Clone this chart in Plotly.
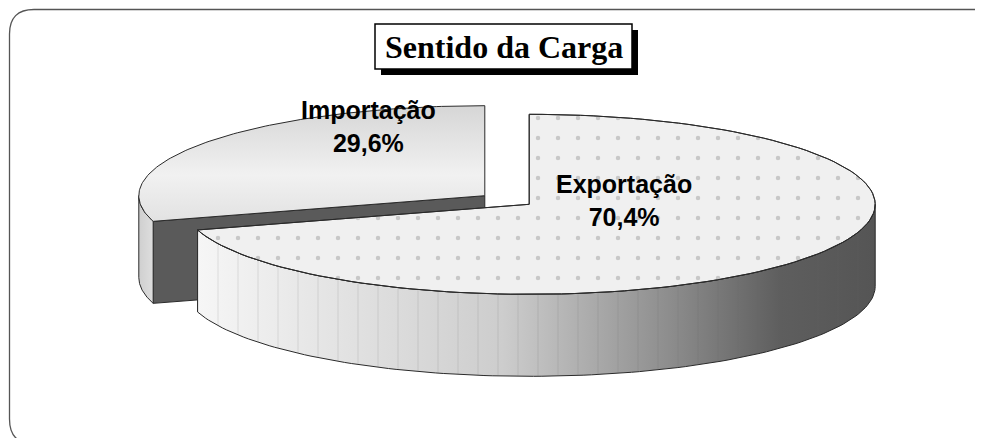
import numpy as np
import plotly.graph_objects as go

# ---- data ----
categories = ["Exportação", "Importação"]
values = [70.4, 29.6]
title_text = "Sentido da Carga"

# ---- pseudo-3D pie geometry (pixel-like axis units) ----
W, H = 983, 438
OFF = 8  # compensate page body margin
cx, cy = 507.0, 200.0
rx, ry = 346.0, 90.0
depth = 82.0
pull = 0.08

def pt(a, ox, oy, dz=0.0):
    r = np.radians(a)
    return ox + rx * np.sin(r), oy - ry * np.cos(r) + dz

def arc(a0, a1, ox, oy, dz=0.0, n=120):
    ang = np.linspace(a0, a1, n)
    r = np.radians(ang)
    return ox + rx * np.sin(r), oy - ry * np.cos(r) + dz

total = float(sum(values))
slices = []
start = 0.0
for cat, v in zip(categories, values):
    end = start + 360.0 * v / total
    mid = np.radians((start + end) / 2)
    ox = cx + pull * rx * np.sin(mid)
    oy = cy - pull * ry * np.cos(mid)
    slices.append(dict(cat=cat, v=v, a0=start, a1=end, ox=ox, oy=oy))
    start = end

styles = {
    "Exportação": dict(top_bg="#f0f0f0", dots=True,
                       side_scale=[[0, "#f6f6f6"], [0.45, "#cdcdcd"], [0.7, "#8c8c8c"],
                                   [0.86, "#5e5e5e"], [1, "#555555"]],
                       cut="#5a5a5a"),
    "Importação": dict(top_bg="#e8e8e8", dots=False,
                       side_scale=[[0, "#cfcfcf"], [1, "#dedede"]],
                       cut="#5a5a5a"),
}

LINE = dict(color="#2a2a2a", width=1)
fig = go.Figure()

def add_poly(xs, ys, **kw):
    xs = list(xs) + [xs[0]]
    ys = list(ys) + [ys[0]]
    fig.add_trace(go.Scatter(x=xs, y=ys, mode="lines", fill="toself",
                             hoverinfo="skip", showlegend=False, **kw))

# draw back-to-front
for s in sorted(slices, key=lambda d: d["oy"]):
    st = styles[s["cat"]]
    ox, oy, a0, a1 = s["ox"], s["oy"], s["a0"], s["a1"]
    # cut faces
    for ang, normal in ((a0, a0 - 90), (a1, a1 + 90)):
        if np.cos(np.radians(normal)) < -1e-6:
            ex, ey = pt(ang, ox, oy)
            add_poly([ox, ex, ex, ox], [oy, ey, ey + depth, oy + depth],
                     fillcolor=st["cut"], line=LINE)
    # outer side (front half only)
    lo, hi = max(a0, 90.0), min(a1, 270.0)
    if hi > lo:
        tx, ty = arc(lo, hi, ox, oy)
        bx, by = arc(hi, lo, ox, oy, depth)
        xs = np.concatenate([tx, bx]); ys = np.concatenate([ty, by])
        add_poly(xs, ys, fillcolor="#cccccc", line=LINE,
                 fillgradient=dict(type="horizontal", colorscale=st["side_scale"],
                                   start=float(xs.min()), stop=float(xs.max())))
        if st["dots"]:
            add_poly(xs, ys, fillcolor="rgba(0,0,0,0)", line=dict(width=0),
                     fillpattern=dict(shape="|", size=20, solidity=0.08,
                                      fgcolor="rgba(90,90,90,0.2)",
                                      bgcolor="rgba(0,0,0,0)"))
    # top face
    tx, ty = arc(a0, a1, ox, oy)
    xs = np.concatenate([[ox], tx]); ys = np.concatenate([[oy], ty])
    if st["dots"]:
        add_poly(xs, ys, fillcolor=st["top_bg"], line=LINE)
        add_poly(xs, ys, fillcolor="rgba(0,0,0,0)", line=LINE,
                 fillpattern=dict(shape=".", size=20, solidity=0.04,
                                  fgcolor="#a0a0a0", bgcolor="rgba(0,0,0,0)"))
    else:
        add_poly(xs, ys, fillcolor=st["top_bg"], line=LINE,
                 fillgradient=dict(type="vertical",
                                   colorscale=[[0, "#d6d6d6"], [0.6, "#f1f1f1"], [1, "#e2e2e2"]],
                                   start=float(ys.min()), stop=float(ys.max())))

# ---- labels ----
label_pos = {"Importação": (368, 126), "Exportação": (624, 200)}
for s in slices:
    pct = f"{s['v']:.1f}".replace(".", ",") + "%"
    x, y = label_pos[s["cat"]]
    fig.add_annotation(x=x, y=y, xref="x", yref="y", showarrow=False,
                       text=f"<b>{s['cat']}</b><br><b>{pct}</b>",
                       font=dict(family="Liberation Sans, Arial", size=25, color="#000"),
                       align="center", xanchor="center", yanchor="middle")

# ---- title box with shadow ----
fig.add_shape(type="rect", xref="x", yref="y", x0=381, y0=30, x1=638, y1=75,
              fillcolor="#000", line=dict(width=0), layer="above")
fig.add_shape(type="rect", xref="x", yref="y", x0=375, y0=24, x1=632, y1=69,
              fillcolor="#fff", line=dict(color="#000", width=1.5), layer="above")
fig.add_annotation(x=503.5, y=47, xref="x", yref="y", showarrow=False,
                   text=f"<b>{title_text}</b>",
                   font=dict(family="Liberation Serif, Times New Roman", size=32, color="#000"),
                   xanchor="center", yanchor="middle")

# ---- rounded frame ----
fig.add_shape(type="path", xref="x", yref="y",
              path="M 34,444 Q 9.5,444 9.5,419 L 9.5,34 Q 9.5,9.5 34,9.5 L 975,9.5 Q 990,9.5 990,24 L 990,460",
              line=dict(color="#555555", width=1.3), layer="above")

fig.update_layout(
    width=W, height=H, margin=dict(l=0, r=0, t=0, b=0),
    paper_bgcolor="#fff", plot_bgcolor="#fff",
    xaxis=dict(range=[OFF, W + OFF], visible=False, fixedrange=True),
    yaxis=dict(range=[H + OFF, OFF], visible=False, fixedrange=True),
    showlegend=False,
)
fig.write_html("out.html")
